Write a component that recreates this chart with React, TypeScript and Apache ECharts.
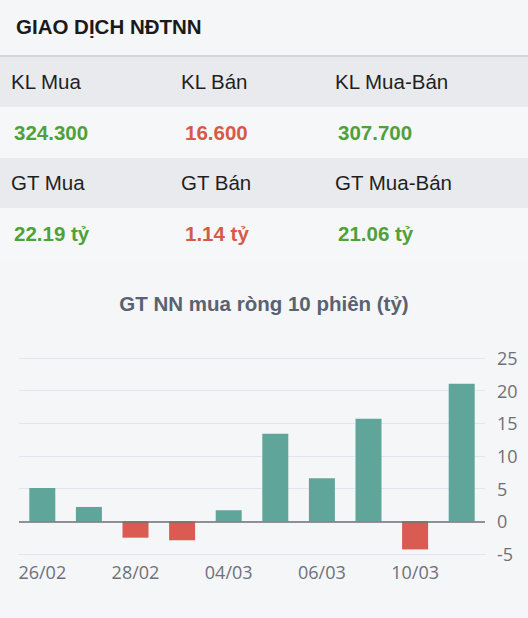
import React, { useEffect, useRef } from "react";
import * as echarts from "echarts";

const headerTitle = "GIAO DỊCH NĐTNN";
const volLabels = ["KL Mua", "KL Bán", "KL Mua-Bán"];
const volValues = ["324.300", "16.600", "307.700"];
const valLabels = ["GT Mua", "GT Bán", "GT Mua-Bán"];
const valValues = ["22.19 tỷ", "1.14 tỷ", "21.06 tỷ"];
const valueKinds = ["up", "down", "up"];

const chartTitle = "GT NN mua ròng 10 phiên (tỷ)";
const dates = ["26/02", "27/02", "28/02", "03/03", "04/03", "05/03", "06/03", "07/03", "10/03", "11/03"];
const netValues = [5.1, 2.2, -2.5, -2.9, 1.7, 13.4, 6.6, 15.7, -4.3, 21.06];
const yMin = -5;
const yMax = 25;
const yStep = 5;

const GREEN_TXT = "#4fa13a";
const RED_TXT = "#d65a48";
const GREEN_BAR = "#5fa59a";
const RED_BAR = "#d95b51";
const SANS = "'Liberation Sans', Arial, sans-serif";

const labelCols = [11, 181, 335];
const valueCols = [14, 185, 338];

function Row({ top, height, bg, items, cols, bold, colors }: any) {
  return (
    <div style={{ position: "absolute", left: 0, top, width: 528, height, background: bg }}>
      {items.map((t: string, i: number) => (
        <div
          key={i}
          style={{
            position: "absolute",
            left: cols[i],
            top: 0,
            height,
            lineHeight: height + "px",
            fontSize: 20.5,
            fontWeight: bold ? 700 : 400,
            color: colors ? colors[i] : "#1f1f1f",
            whiteSpace: "nowrap",
          }}
        >
          {t}
        </div>
      ))}
    </div>
  );
}

export default function App() {
  const ref = useRef<HTMLDivElement>(null);
  useEffect(() => {
    document.body.style.margin = "0";
    document.body.style.background = "#f5f6f8";
    const chart = echarts.init(ref.current!, null, { renderer: "svg" });
    chart.setOption({
      animation: false,
      backgroundColor: "transparent",
      title: {
        text: chartTitle,
        left: "center",
        top: 33,
        padding: 0,
        textStyle: { fontFamily: SANS, fontSize: 20.5, fontWeight: "bold", color: "#596270" },
      },
      grid: { left: 19, right: 43, top: 98, bottom: 64 },
      xAxis: {
        type: "category",
        data: dates,
        axisLine: { show: false },
        axisTick: { show: false },
        axisLabel: {
          interval: 1,
          margin: 9,
          fontFamily: "'Open Sans', sans-serif",
          fontSize: 18,
          color: "#6e7079",
        },
      },
      yAxis: {
        type: "value",
        position: "right",
        min: yMin,
        max: yMax,
        interval: yStep,
        axisLine: { show: false },
        axisTick: { show: false },
        axisLabel: {
          margin: 12,
          fontFamily: "'Open Sans', sans-serif",
          fontSize: 18,
          color: "#6e7079",
        },
        splitLine: { lineStyle: { color: "#e0e6f1", width: 1 } },
      },
      series: [
        {
          type: "bar",
          barWidth: 26,
          data: netValues.map((v) => ({
            value: v,
            itemStyle: { color: v >= 0 ? GREEN_BAR : RED_BAR },
          })),
          markLine: {
            silent: true,
            symbol: "none",
            label: { show: false },
            lineStyle: { color: "#6e7079", type: "solid", width: 1.5 },
            data: [{ yAxis: 0 }],
          },
        },
      ],
    });
    return () => chart.dispose();
  }, []);

  return (
    <div
      style={{
        position: "relative",
        width: 528,
        height: 618,
        background: "#f5f6f8",
        fontFamily: SANS,
        overflow: "hidden",
      }}
    >
      <div
        style={{
          position: "absolute",
          left: 16,
          top: 0,
          height: 55,
          lineHeight: "54px",
          fontSize: 20.5,
          fontWeight: 700,
          color: "#1a1a1a",
        }}
      >
        {headerTitle}
      </div>
      <div style={{ position: "absolute", left: 0, top: 55, width: 528, height: 2, background: "#d3d4d7" }} />
      <Row top={57} height={50} bg="#e9eaed" items={volLabels} cols={labelCols} bold={false} />
      <Row
        top={107}
        height={51}
        bg="#f6f7f9"
        items={volValues}
        cols={valueCols}
        bold={true}
        colors={valueKinds.map((k) => (k === "up" ? GREEN_TXT : RED_TXT))}
      />
      <Row top={158} height={50} bg="#e9eaed" items={valLabels} cols={labelCols} bold={false} />
      <Row
        top={208}
        height={52}
        bg="#f6f7f9"
        items={valValues}
        cols={valueCols}
        bold={true}
        colors={valueKinds.map((k) => (k === "up" ? GREEN_TXT : RED_TXT))}
      />
      <div ref={ref} style={{ position: "absolute", left: 0, top: 260, width: 528, height: 358 }} />
    </div>
  );
}
